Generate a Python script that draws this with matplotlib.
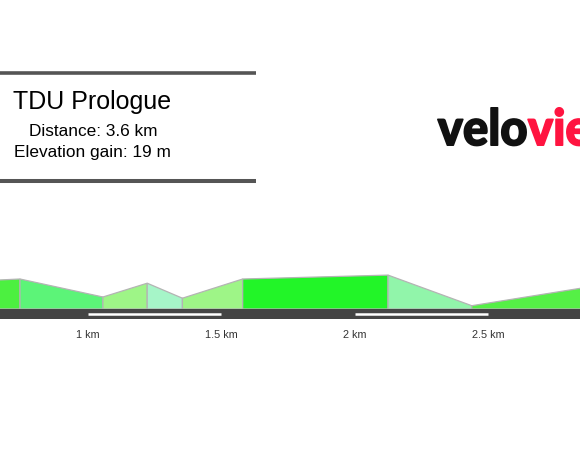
import matplotlib
matplotlib.use("Agg")
import matplotlib.pyplot as plt
from matplotlib.font_manager import FontProperties
from matplotlib.textpath import TextPath
from matplotlib.patches import PathPatch, Polygon
from matplotlib.transforms import Affine2D, blended_transform_factory

plt.rcParams['font.family'] = ['Liberation Sans', 'DejaVu Sans']

# Course profile (distance in km, elevation in m above the profile floor)
distance_km = [0.65, 0.745, 1.056, 1.222, 1.354, 1.580, 2.125, 2.439, 2.86]
elevation_m = [9.6, 10.0, 4.0, 8.6, 3.6, 10.0, 11.3, 1.1, 7.1]
segment_colors = ['#4cf040', '#5cf478', '#9ef587', '#a6f5c8',
                  '#9ef587', '#22f528', '#91f5aa', '#55f046']

# Alternating half-kilometre markers on the road strip
marker_ranges_km = [(0.0, 0.5), (1.0, 1.5), (2.0, 2.5), (3.0, 3.5)]
tick_km = [1.0, 1.5, 2.0, 2.5]
tick_labels = ['1 km', '1.5 km', '2 km', '2.5 km']

title = 'TDU Prologue'
distance_text = 'Distance: 3.6 km'
gain_text = 'Elevation gain: 19 m'

W, H = 580, 469
DPI = 100
fig = plt.figure(figsize=(W / DPI, H / DPI), dpi=DPI)
fig.patch.set_facecolor('white')

x_range = (1 - 88 / 266.7, 1 + (W - 88) / 266.7)


def frac_rect(left, top, width, height):
    return [left / W, 1 - (top + height) / H, width / W, height / H]


# Elevation profile
ax = fig.add_axes(frac_rect(0, 240, W, 69))
ax.set_xlim(*x_range)
ax.set_ylim(0, 23)
ax.axis('off')
for i, color in enumerate(segment_colors):
    x0, x1 = distance_km[i], distance_km[i + 1]
    y0, y1 = elevation_m[i], elevation_m[i + 1]
    poly = Polygon([(x0, 0), (x0, y0), (x1, y1), (x1, 0)], closed=True,
                   facecolor=color, edgecolor='#b4b4b4', linewidth=0.9,
                   joinstyle='miter')
    ax.add_patch(poly)

# Road strip with km markers
road = fig.add_axes(frac_rect(0, 309, W, 10))
road.set_xlim(*x_range)
road.set_ylim(0, 1)
road.set_facecolor('#444444')
for s in road.spines.values():
    s.set_visible(False)
road.set_xticks([])
road.set_yticks([])
for a, b in marker_ranges_km:
    road.plot([a, b], [0.5, 0.5], color='white', linewidth=1.8,
              solid_capstyle='butt')
tr = blended_transform_factory(road.transData, road.transAxes)
for k, lab in zip(tick_km, tick_labels):
    road.text(k, -1.9, lab, transform=tr, ha='center', va='baseline',
              fontsize=7.8, color='#333333', clip_on=False)

# Header block and logo, laid out in pixel units
ov = fig.add_axes([0, 0, 1, 1])
ov.set_xlim(0, W)
ov.set_ylim(H, 0)
ov.axis('off')
ov.patch.set_alpha(0)
ov.plot([0, 256], [73.5, 73.5], color='#555555', linewidth=2.6,
        solid_capstyle='butt')
ov.plot([0, 256], [181.5, 181.5], color='#555555', linewidth=2.9,
        solid_capstyle='butt')
ov.text(92.5, 109.5, title, ha='center', va='baseline', fontsize=18,
        color='black')
ov.text(93, 136.5, distance_text, ha='center', va='baseline',
        fontsize=12.4, color='black')
ov.text(92, 157.5, gain_text, ha='center', va='baseline',
        fontsize=12.4, color='black')

# Wordmark: heavy glyph outlines, stroked to thicken them
fp = FontProperties(family='Lato', weight='black')
p_velo = TextPath((0, 0), 'velo', size=100, prop=fp)
p_rest = TextPath((0, 0), 'viewer', size=100, prop=fp)
l_height = TextPath((0, 0), 'l', size=100, prop=fp).get_extents().y1
ext = p_velo.get_extents()
stroke = 1.6  # pixels added around each glyph
sy = (39 - stroke) / l_height
sx = (90 - stroke) / (ext.x1 - ext.x0)
t1 = Affine2D().translate(-ext.x0, 0).scale(sx, -sy).translate(437 + stroke / 2, 146 - stroke / 2)
ov.add_patch(PathPatch(t1.transform_path(p_velo), facecolor='#111111',
                       edgecolor='#111111', linewidth=stroke * 0.72,
                       joinstyle='round'))
ext2 = p_rest.get_extents()
t2 = Affine2D().translate(-ext2.x0, 0).scale(sx, -sy).translate(528, 146 - stroke / 2)
ov.add_patch(PathPatch(t2.transform_path(p_rest), facecolor='#ff1440',
                       edgecolor='#ff1440', linewidth=stroke * 0.72,
                       joinstyle='round'))

fig.savefig('out.png', dpi=DPI)
